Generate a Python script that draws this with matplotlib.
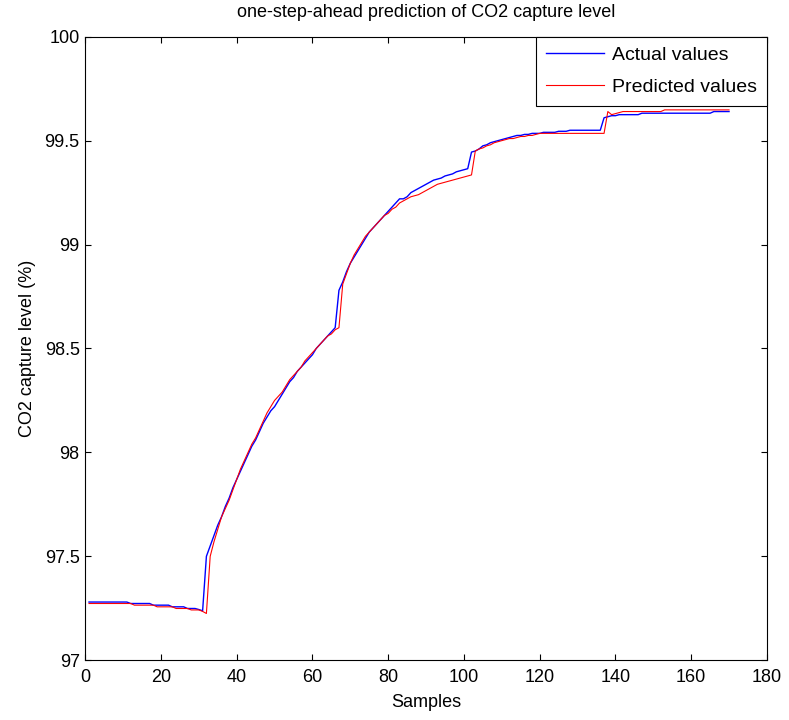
import matplotlib
matplotlib.use('Agg')
import matplotlib.pyplot as plt
import numpy as np

plt.rcParams['font.family'] = ['Liberation Sans', 'DejaVu Sans']

# values, one per sample (1..170)
actual = (
    [97.28] * 11 + [97.273] * 6 + [97.265] * 5 + [97.257] * 4 + [97.249] * 3 +
    [97.244, 97.238,
     97.50, 97.55, 97.60, 97.65, 97.69, 97.74, 97.78, 97.83, 97.87,          # 32-40
     97.91, 97.95, 97.99, 98.03, 98.06, 98.10, 98.14, 98.17, 98.20, 98.22,   # 41-50
     98.25, 98.28, 98.31, 98.34, 98.36, 98.39, 98.41, 98.43, 98.45, 98.47,   # 51-60
     98.50, 98.52, 98.54, 98.56, 98.58, 98.60, 98.78, 98.82, 98.87, 98.91,   # 61-70
     98.94, 98.97, 99.00, 99.03, 99.06, 99.08, 99.10, 99.12, 99.14, 99.16,   # 71-80
     99.18, 99.20, 99.22, 99.22, 99.23, 99.25, 99.26, 99.27, 99.28, 99.29,   # 81-90
     99.30, 99.31, 99.315, 99.32, 99.33, 99.335, 99.34, 99.35, 99.355, 99.36,  # 91-100
     99.365, 99.445, 99.45, 99.46, 99.475, 99.48, 99.49, 99.495, 99.50, 99.505,  # 101-110
     99.51, 99.515, 99.52, 99.525, 99.525, 99.53, 99.53, 99.535, 99.535, 99.535,  # 111-120
     99.54, 99.54, 99.54, 99.54, 99.545, 99.545, 99.545] +                  # 121-127
    [99.55] * 9 +                                                             # 128-136
    [99.61, 99.615, 99.62, 99.62, 99.625] +                                   # 137-141
    [99.625] * 5 + [99.632] * 19 + [99.64] * 5                                # 142-170
)

predicted = (
    [97.273] * 12 + [97.265] * 6 + [97.257] * 5 + [97.249] * 4 + [97.242] * 3 +
    [97.235, 97.225,
     97.50, 97.57, 97.63, 97.69, 97.73, 97.77, 97.82, 97.87,                 # 33-40
     97.92, 97.96, 98.00, 98.04, 98.07, 98.11, 98.15, 98.19, 98.22, 98.25,   # 41-50
     98.27, 98.29, 98.32, 98.35, 98.37, 98.39, 98.41, 98.44, 98.46, 98.48,   # 51-60
     98.50, 98.52, 98.54, 98.56, 98.57, 98.59, 98.60, 98.81, 98.86, 98.91,   # 61-70
     98.95, 98.98, 99.01, 99.04, 99.06, 99.08, 99.10, 99.12, 99.14, 99.15,   # 71-80
     99.17, 99.18, 99.20, 99.21, 99.22, 99.23, 99.235, 99.24, 99.25, 99.26,  # 81-90
     99.27, 99.28, 99.29, 99.295, 99.30, 99.305, 99.31, 99.315, 99.32, 99.325,  # 91-100
     99.33, 99.335, 99.45, 99.46, 99.465, 99.475, 99.48, 99.49, 99.495, 99.50,  # 101-110
     99.505, 99.51, 99.51, 99.515, 99.52, 99.52, 99.525, 99.525, 99.53] +   # 111-119
    [99.535] * 18 +                                                           # 120-137
    [99.64, 99.625, 99.63, 99.635] +                                          # 138-141
    [99.64] * 11 + [99.648] * 18                                              # 142-170
)

samples = np.arange(1, len(actual) + 1)
assert len(actual) == 170 and len(predicted) == 170

fig = plt.figure(figsize=(7.89, 7.2), dpi=100)
ax = fig.add_axes([0.108, 0.083, 0.864, 0.866])

ax.plot(samples, actual, color='blue', lw=1.0, label='Actual values')
ax.plot(samples, predicted, color='red', lw=0.8, label='Predicted values')

ax.set_xlim(0, 180)
ax.set_ylim(97, 100)
ax.set_xticks(np.arange(0, 181, 20))
ax.set_yticks([97, 97.5, 98, 98.5, 99, 99.5, 100])
ax.set_yticklabels(['97', '97.5', '98', '98.5', '99', '99.5', '100'])
ax.tick_params(direction='in', top=True, right=True, labelsize=13, length=4)
ax.tick_params(axis='x', pad=6)
ax.tick_params(axis='y', pad=4)

ax.set_title('one-step-ahead prediction of CO2 capture level', fontsize=13, pad=14)
ax.set_xlabel('Samples', fontsize=13, labelpad=6)
ax.set_ylabel('CO2 capture level (%)', fontsize=13, labelpad=6)

leg = ax.legend(loc='upper right', fontsize=14, fancybox=False, framealpha=1,
                borderaxespad=0, handlelength=3.0, handletextpad=0.4,
                labelspacing=0.75, borderpad=0.5)
leg.get_frame().set_edgecolor('black')
leg.get_frame().set_linewidth(0.8)

fig.savefig('out.png', dpi=100)
